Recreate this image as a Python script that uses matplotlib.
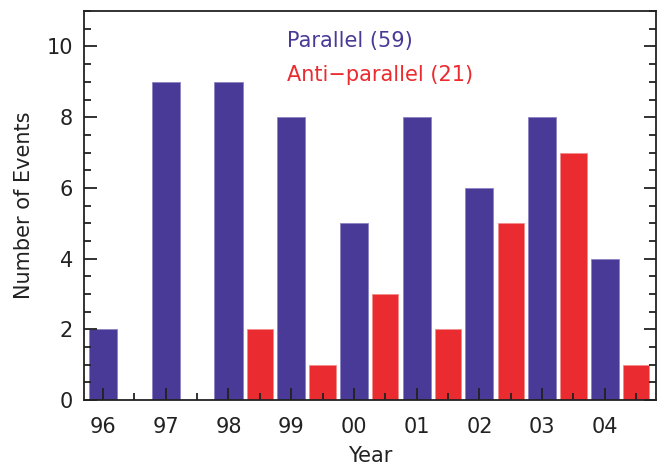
import numpy as np
import matplotlib
matplotlib.use('Agg')
import matplotlib.pyplot as plt
from matplotlib.ticker import MultipleLocator

years = ['96', '97', '98', '99', '00', '01', '02', '03', '04']
parallel = [2, 9, 9, 8, 5, 8, 6, 8, 4]
antiparallel = [0, 0, 2, 1, 3, 2, 5, 7, 1]

blue = '#4a3a97'
red = '#ea2b2f'
fontsize = 15

fig = plt.figure(figsize=(6.57, 4.65), dpi=100)
ax = fig.add_axes([0.128, 0.140, 0.870, 0.836])

x = np.arange(len(years))
ax.bar(x, parallel, width=0.45, color=blue, edgecolor='#8c84c4', linewidth=0.6)
ax.bar(x + 0.5, antiparallel, width=0.42, color=red, edgecolor='#f28c8c', linewidth=0.6)

ax.set_xlim(-0.30, 8.81)
ax.set_ylim(0, 11)

ax.set_xticks(x)
ax.set_xticklabels(years)
ax.xaxis.set_minor_locator(MultipleLocator(0.5))
ax.yaxis.set_major_locator(MultipleLocator(2))
ax.yaxis.set_minor_locator(MultipleLocator(0.5))

ax.tick_params(axis='both', which='both', direction='in', width=1.3, color='#222222',
               labelsize=fontsize, labelcolor='#222222')
ax.tick_params(axis='both', which='major', length=9)
ax.tick_params(axis='both', which='minor', length=5)
ax.tick_params(axis='y', which='both', right=True, pad=8)
ax.tick_params(axis='x', which='both', top=False, pad=12)

for s in ax.spines.values():
    s.set_linewidth(1.3)
    s.set_color('#222222')

ax.set_xlabel('Year', size=fontsize, color='#222222', labelpad=7)
ax.set_ylabel('Number of Events', size=fontsize, color='#222222', labelpad=9)

ax.text(0.355, 0.922, 'Parallel (59)', transform=ax.transAxes, size=fontsize,
        color=blue, va='center', ha='left')
ax.text(0.355, 0.837, 'Anti\u2212parallel (21)', transform=ax.transAxes, size=fontsize,
        color=red, va='center', ha='left')

fig.savefig('out.png', dpi=100)
